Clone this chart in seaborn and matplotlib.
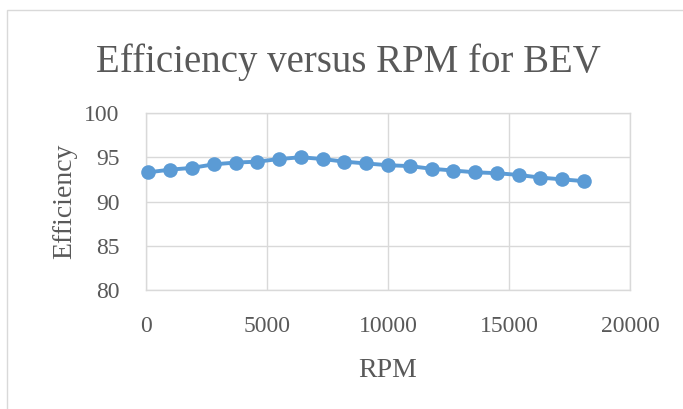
import numpy as np
import pandas as pd
import seaborn as sns
import matplotlib as mpl
import matplotlib.pyplot as plt
from matplotlib.patches import Rectangle

# Data
rpm = [100, 1000, 1900, 2800, 3700, 4600, 5500, 6400, 7300, 8200, 9100,
       10000, 10900, 11800, 12700, 13600, 14500, 15400, 16300, 17200, 18100]
efficiency = [93.3, 93.6, 93.8, 94.2, 94.4, 94.5, 94.8, 95.0, 94.8, 94.5, 94.3,
              94.1, 94.0, 93.7, 93.5, 93.3, 93.2, 93.0, 92.7, 92.5, 92.3]
x_ticks = [0, 5000, 10000, 15000, 20000]
y_ticks = [80, 85, 90, 95, 100]

# Style
sns.set_theme(style="white")
plt.rcParams['font.family'] = ['Liberation Serif', 'DejaVu Serif']

text_color = '#595959'
grid_color = '#d9d9d9'
blue = '#5b9bd5'

df = pd.DataFrame({'RPM': rpm, 'Efficiency': efficiency})

# Figure
fig = plt.figure(figsize=(6.83, 4.09), dpi=100)
fig.patch.set_facecolor('white')
ax = fig.add_axes([146 / 683, 1 - 290 / 409, 484 / 683, 177 / 409])

# Outer chart border (left and top visible)
fig.patches.append(Rectangle((7 / 683, -0.1), 1.2, 1.1 - 10 / 409,
                             transform=fig.transFigure, fill=False,
                             edgecolor=grid_color, linewidth=1.0,
                             clip_on=False))

# Plot
sns.lineplot(data=df, x='RPM', y='Efficiency', ax=ax, color=blue,
             marker='o', markersize=10.5, markeredgewidth=0,
             linewidth=2.8, clip_on=False, zorder=3)

# Axes
ax.set_xlim(0, 20000)
ax.set_ylim(80, 100)
ax.set_xticks(x_ticks)
ax.set_yticks(y_ticks)
ax.grid(True, color=grid_color, linewidth=1.0)
for side in ax.spines.values():
    side.set_color(grid_color)
    side.set_linewidth(1.0)
ax.tick_params(axis='both', length=0, pad=19, labelsize=17,
               labelcolor=text_color)

ax.set_xlabel('RPM', fontsize=20, color=text_color, labelpad=15)
ax.set_ylabel('Efficiency', fontsize=20, color=text_color, labelpad=5)

# Title, centred on the whole chart
fig.text(348.5 / 683, 1 - 72 / 409, 'Efficiency versus RPM for BEV',
         ha='center', va='baseline', fontsize=28, color=text_color)

fig.savefig('out.png', dpi=100)
